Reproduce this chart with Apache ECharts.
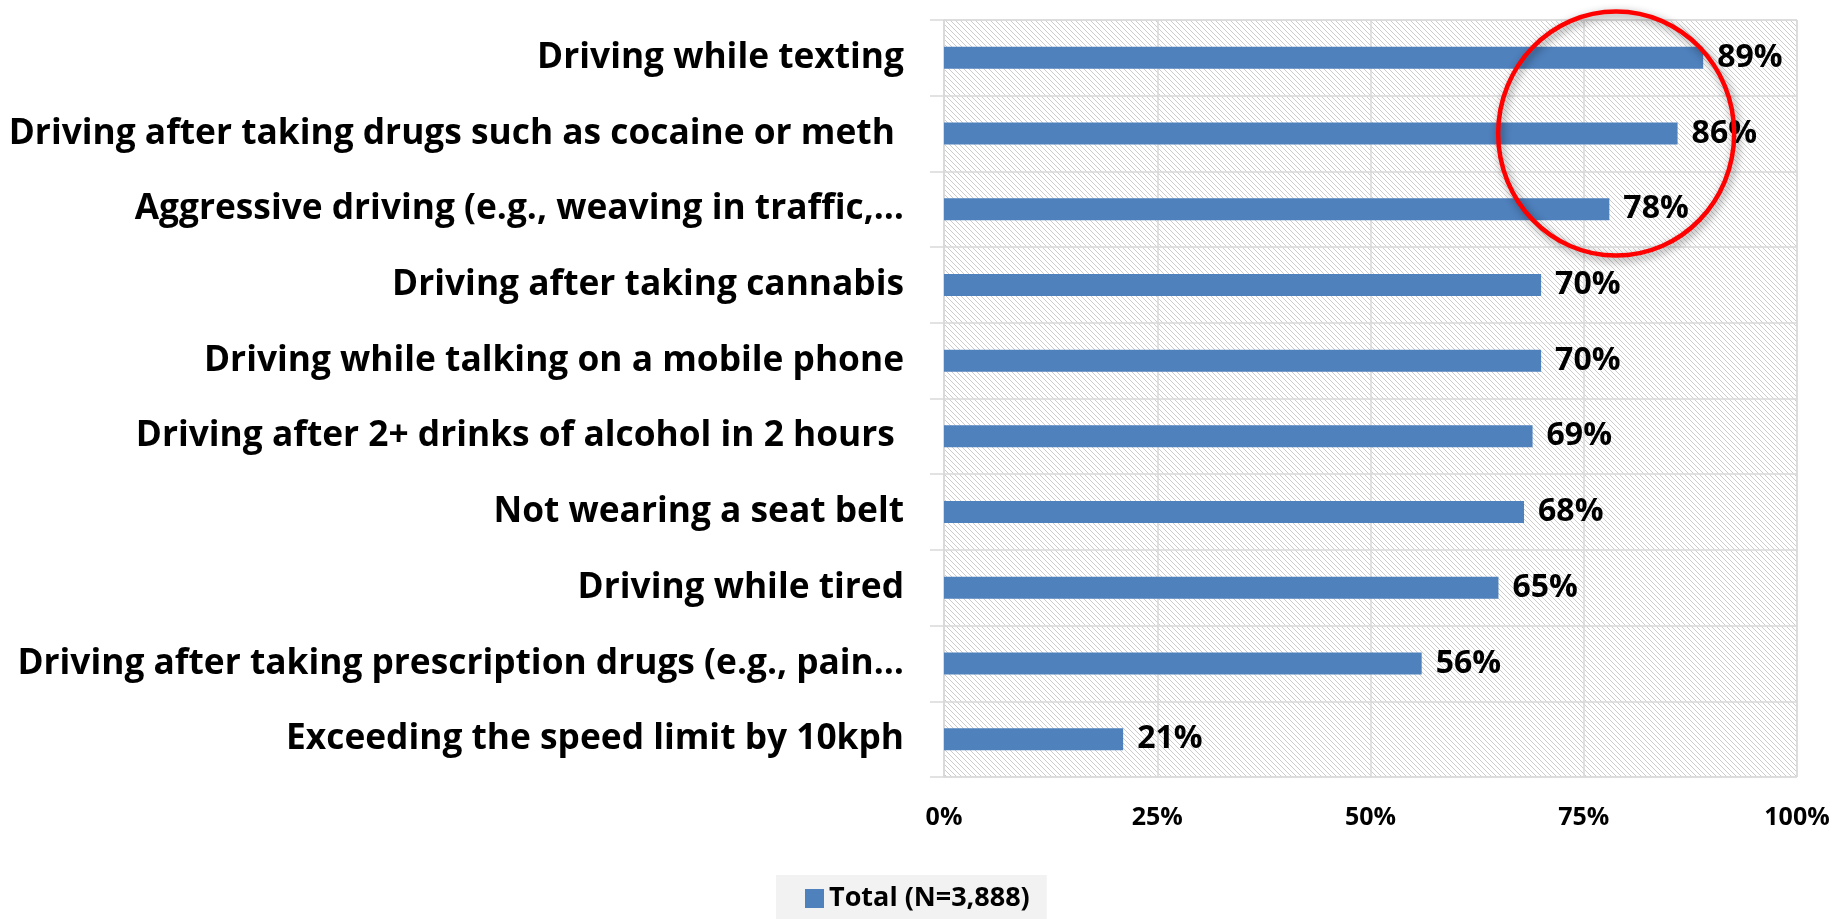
<!DOCTYPE html>
<html>
<head>
<meta charset="utf-8">
<script src="https://cdn.jsdelivr.net/npm/echarts@6/dist/echarts.min.js"></script>
<style>
  html, body { margin: 0; padding: 0; background: #fff; }
  #chart { width: 1837px; height: 919px; }
</style>
</head>
<body>
<div id="chart"></div>
<script>
// Risky driving behaviours, share of respondents (%)
const categories = [
  'Driving while texting',
  'Driving after taking drugs such as cocaine or meth ',
  'Aggressive driving (e.g., weaving in traffic,…',
  'Driving after taking cannabis',
  'Driving while talking on a mobile phone',
  'Driving after 2+ drinks of alcohol in 2 hours ',
  'Not wearing a seat belt',
  'Driving while tired',
  'Driving after taking prescription drugs (e.g., pain…',
  'Exceeding the speed limit by 10kph'
];
const totalValues = [89, 86, 78, 70, 70, 69, 68, 65, 56, 21];
const seriesName = 'Total (N=3,888)';
const axisTicks = [0, 25, 50, 75, 100];

const FONT = '"Open Sans", sans-serif';

// light downward-diagonal hatch for the plot area
function hatchTile() {
  const n = 5;
  const c = document.createElement('canvas');
  c.width = n; c.height = n;
  const g = c.getContext('2d');
  g.fillStyle = '#ffffff';
  g.fillRect(0, 0, n, n);
  g.fillStyle = '#cccccc';
  for (let i = 0; i < n; i++) g.fillRect(i, i, 1, 1);
  return c;
}

const chart = echarts.init(document.getElementById('chart'));
const option = {
  animation: false,
  backgroundColor: '#ffffff',
  grid: {
    left: 944, right: 40, top: 20, bottom: 142,
    containLabel: false,
    outerBoundsMode: 'none',
    show: true,
    borderColor: '#d9d9d9',
    borderWidth: 1,
    backgroundColor: { image: hatchTile(), repeat: 'repeat' }
  },
  xAxis: {
    type: 'value',
    min: axisTicks[0],
    max: axisTicks[axisTicks.length - 1],
    interval: axisTicks[1] - axisTicks[0],
    axisLine: { show: false },
    axisTick: { show: false },
    splitLine: { show: true, lineStyle: { color: '#d9d9d9', width: 1.5 } },
    axisLabel: {
      formatter: v => v + '%',
      fontFamily: FONT, fontWeight: 'bold', fontSize: 25, color: '#000',
      margin: 28
    }
  },
  yAxis: {
    type: 'category',
    data: categories,
    inverse: true,
    axisLine: { show: true, lineStyle: { color: '#d9d9d9', width: 1.5 } },
    axisTick: { show: true, length: 14, lineStyle: { color: '#d9d9d9', width: 1.5 } },
    splitLine: { show: true, lineStyle: { color: '#d9d9d9', width: 1.5 } },
    axisLabel: {
      fontFamily: FONT, fontWeight: 'bold', fontSize: 35.3, color: '#000',
      margin: 40
    }
  },
  legend: {
    data: [seriesName],
    left: 776, top: 875,
    backgroundColor: '#f2f2f2',
    padding: [10, 17, 20, 29],
    icon: 'rect',
    itemWidth: 19, itemHeight: 19,
    textStyle: { fontFamily: FONT, fontWeight: 'bold', fontSize: 27, color: '#000' }
  },
  series: [{
    name: seriesName,
    type: 'bar',
    data: totalValues,
    barWidth: 22,
    itemStyle: { color: '#4f81bd' },
    label: {
      show: true,
      position: 'right',
      distance: 14,
      formatter: p => p.value + '%',
      fontFamily: FONT, fontWeight: 'bold', fontSize: 32, color: '#000'
    }
  }]
};
chart.setOption(option);

// highlight ring around the top three behaviours
const centre = chart.convertToPixel({ gridIndex: 0 }, [78.8, categories[1]]);
chart.setOption({
  graphic: [{
    type: 'ellipse',
    shape: { cx: centre[0], cy: centre[1], rx: 118, ry: 122 },
    style: {
      fill: null,
      stroke: '#ff0000',
      lineWidth: 4.5,
      shadowColor: 'rgba(0,0,0,0.45)',
      shadowBlur: 8,
      shadowOffsetX: 2,
      shadowOffsetY: 3
    },
    z: 100
  }]
});
</script>
</body>
</html>
